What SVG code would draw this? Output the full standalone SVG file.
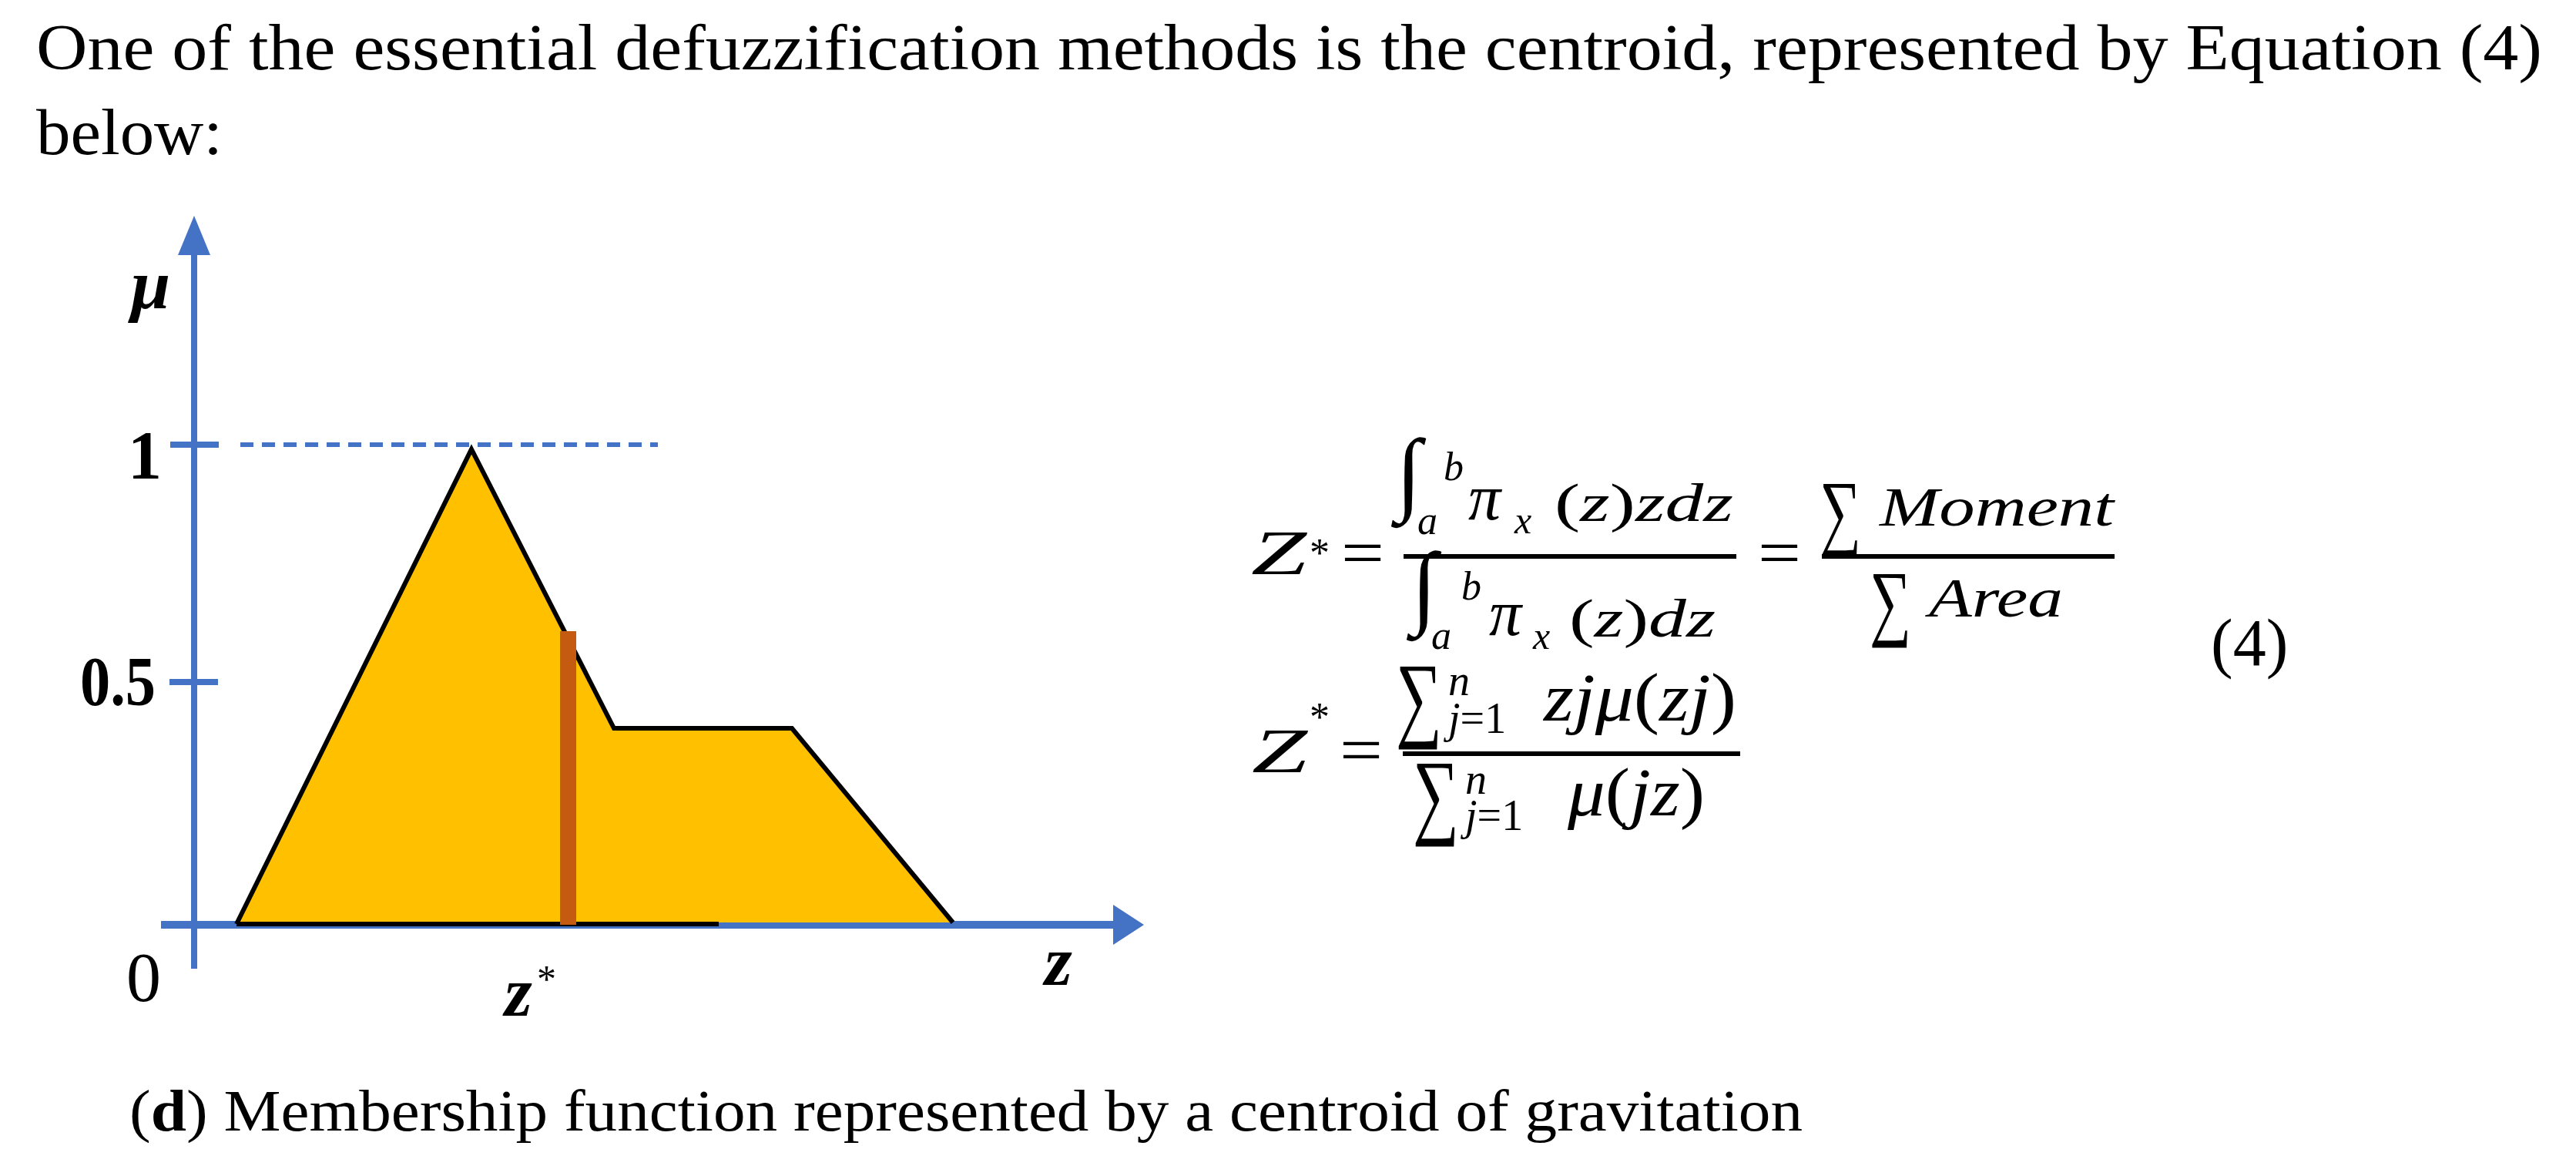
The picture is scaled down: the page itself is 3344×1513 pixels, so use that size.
<svg xmlns="http://www.w3.org/2000/svg" width="3344" height="1513" viewBox="0 0 3344 1513">
<style>
text{font-family:"Liberation Serif","Times New Roman",serif;fill:#000}
.i{font-style:italic}
.bi{font-style:italic;font-weight:bold}
.b{font-weight:bold}
.ax{stroke:#4472C4;fill:none}
.axf{fill:#4472C4}
.edge{stroke:#000;stroke-width:6;fill:none;stroke-linejoin:miter}
</style>
<rect width="3344" height="1513" fill="#fff"/>
<g id="body-text">
<text x="47" y="90" font-size="85" textLength="3253" lengthAdjust="spacingAndGlyphs">One of the essential defuzzification methods is the centroid, represented by Equation (4)</text>
<text x="47" y="200" font-size="85" textLength="242" lengthAdjust="spacingAndGlyphs">below:</text>
</g>
<g id="chart">
<g id="axes">
<line class="ax" x1="252" y1="325" x2="252" y2="1257" stroke-width="8"/>
<polygon class="axf" points="252,280 273,331 231,331"/>
<line class="ax" x1="209" y1="1200" x2="1450" y2="1200" stroke-width="10"/>
<polygon class="axf" points="1485,1200 1445,1174 1445,1226"/>
<line class="ax" x1="221" y1="577" x2="284" y2="577" stroke-width="8"/>
<line class="ax" x1="220" y1="885" x2="283" y2="885" stroke-width="8"/>
<line class="ax" x1="312" y1="577" x2="854" y2="577" stroke-width="6" stroke-dasharray="17 11"/>
</g>
<g id="membership">
<polygon points="307,1197 612,583 797,945 1028,945 1237,1197" fill="#FFC000"/>
<polyline class="edge" points="307,1199 612,583 797,945 1028,945 1237,1197"/>
<line x1="307" y1="1199" x2="933" y2="1199" stroke="#000" stroke-width="6"/>
</g>
<g id="centroid">
<rect x="727" y="819" width="21" height="381" fill="#C55A11"/>
</g>
<g id="labels">
<text class="bi" x="170" y="400" font-size="92">μ</text>
<text class="b" x="166" y="620" font-size="88">1</text>
<text class="b" x="104" y="915" font-size="90" textLength="98" lengthAdjust="spacingAndGlyphs">0.5</text>
<text x="164" y="1299" font-size="90">0</text>
<text class="bi" x="655" y="1318" font-size="92">z</text>
<text x="697" y="1287" font-size="50" fill="#555">*</text>
<text class="bi" x="1356" y="1278" font-size="92">z</text>
</g>
</g>
<g id="equation1">
<text class="i" x="1624" y="745" font-size="82" textLength="72" lengthAdjust="spacingAndGlyphs">Z</text>
<text x="1700" y="735" font-size="52">*</text>
<text x="1741" y="746" font-size="84" textLength="56" lengthAdjust="spacingAndGlyphs">=</text>
<rect x="1822" y="719" width="432" height="6"/>
<text class="i" x="1812" y="653" font-size="120">∫</text>
<text class="i" x="1874" y="623" font-size="52">b</text>
<text class="i" x="1840" y="693" font-size="52">a</text>
<text class="i" x="1906" y="674" font-size="84">π</text>
<text class="i" x="1966" y="692" font-size="50">x</text>
<text x="2018" y="676" font-size="70" textLength="232" lengthAdjust="spacingAndGlyphs">(<tspan class="i">z</tspan>)<tspan class="i">zdz</tspan></text>
<text class="i" x="1832" y="800" font-size="120">∫</text>
<text class="i" x="1897" y="778" font-size="52">b</text>
<text class="i" x="1858" y="842" font-size="52">a</text>
<text class="i" x="1933" y="824" font-size="84">π</text>
<text class="i" x="1990" y="842" font-size="50">x</text>
<text x="2037" y="826" font-size="70" textLength="190" lengthAdjust="spacingAndGlyphs">(<tspan class="i">z</tspan>)<tspan class="i">dz</tspan></text>
<text x="2282" y="746" font-size="84" textLength="56" lengthAdjust="spacingAndGlyphs">=</text>
<rect x="2365" y="719" width="380" height="6"/>
<text x="2362" y="700" font-size="110" textLength="54" lengthAdjust="spacingAndGlyphs">∑</text>
<text class="i" x="2440" y="682" font-size="72" textLength="304" lengthAdjust="spacingAndGlyphs">Moment</text>
<text x="2427" y="817" font-size="110" textLength="54" lengthAdjust="spacingAndGlyphs">∑</text>
<text class="i" x="2504" y="800" font-size="72" textLength="174" lengthAdjust="spacingAndGlyphs">Area</text>
</g>
<g id="equation-number">
<text x="2870" y="863" font-size="86">(4)</text>
</g>
<g id="equation2">
<text class="i" x="1625" y="1002" font-size="82" textLength="72" lengthAdjust="spacingAndGlyphs">Z</text>
<text x="1700" y="948" font-size="52">*</text>
<text x="1739" y="1002" font-size="84" textLength="56" lengthAdjust="spacingAndGlyphs">=</text>
<rect x="1821" y="975" width="438" height="6"/>
<text x="1812" y="946" font-size="124" textLength="60" lengthAdjust="spacingAndGlyphs">∑</text>
<text class="i" x="1880" y="902" font-size="56">n</text>
<text x="1880" y="951" font-size="56"><tspan class="i">j</tspan>=1</text>
<text x="2004" y="935" font-size="88" textLength="250" lengthAdjust="spacingAndGlyphs"><tspan class="i">zjμ</tspan>(<tspan class="i">zj</tspan>)</text>
<text x="1834" y="1072" font-size="124" textLength="60" lengthAdjust="spacingAndGlyphs">∑</text>
<text class="i" x="1902" y="1030" font-size="56">n</text>
<text x="1902" y="1077" font-size="56"><tspan class="i">j</tspan>=1</text>
<text x="2035" y="1058" font-size="88" textLength="178" lengthAdjust="spacingAndGlyphs"><tspan class="i">μ</tspan>(<tspan class="i">jz</tspan>)</text>
</g>
<g id="caption">
<text x="168" y="1467" font-size="76" textLength="2172" lengthAdjust="spacingAndGlyphs">(<tspan class="b">d</tspan>) Membership function represented by a centroid of gravitation</text>
</g>
</svg>
